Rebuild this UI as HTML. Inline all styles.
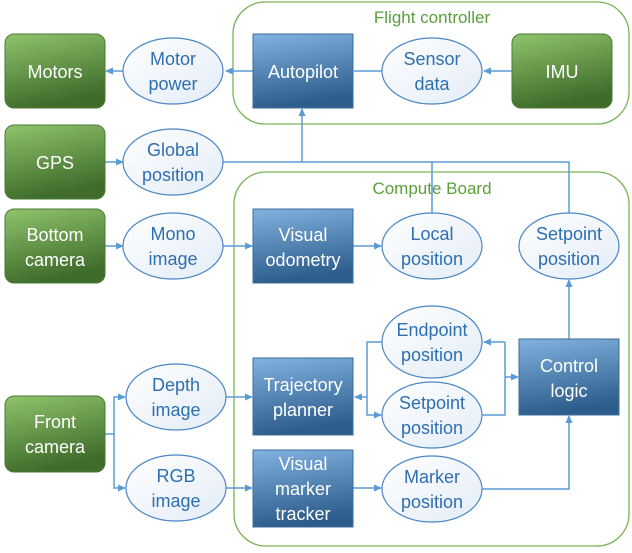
<!DOCTYPE html>
<html><head><meta charset="utf-8"><style>
body{margin:0;background:#fff}
svg text{font-family:"Liberation Sans",sans-serif;font-size:18px;text-anchor:middle}
.w{fill:#fff}.b{fill:#2e6fb0}.g{fill:#5aa03c;font-size:17px}
.e{fill:url(#eg);stroke:#4a86c5;stroke-width:1.2}
.l{fill:none;stroke:#5b9bd5;stroke-width:1.5}
</style></head><body>
<svg width="632" height="548" viewBox="0 0 632 548">
<defs>
<linearGradient id="gg" x1="0" y1="0" x2="0.3" y2="1"><stop offset="0" stop-color="#8fc46c"/><stop offset="1" stop-color="#3f6c2b"/></linearGradient>
<linearGradient id="bg" x1="0" y1="0" x2="0.2" y2="1"><stop offset="0" stop-color="#82b2df"/><stop offset="1" stop-color="#2d5d8c"/></linearGradient>
<linearGradient id="eg" x1="0" y1="0" x2="1" y2="1"><stop offset="0" stop-color="#fff"/><stop offset="1" stop-color="#e3ecf7"/></linearGradient>
<marker id="a" markerWidth="8" markerHeight="8" refX="7" refY="4" orient="auto" markerUnits="userSpaceOnUse"><path d="M0,0.5 L8,4 L0,7.5z" fill="#5b9bd5"/></marker>
</defs>
<rect x="233" y="2" width="396" height="122" rx="32" fill="none" stroke="#7ab356" stroke-width="1.3"/>
<text class="g" x="432" y="23">Flight controller</text>
<rect x="234" y="172" width="395" height="374" rx="32" fill="none" stroke="#7ab356" stroke-width="1.3"/>
<text class="g" x="432" y="194">Compute Board</text>
<g class="l">
<path d="M253 71H226" marker-end="url(#a)"/>
<path d="M123 71H106" marker-end="url(#a)"/>
<path d="M512 71H484" marker-end="url(#a)"/>
<path d="M382 71H354"/>
<path d="M105 162H123" marker-end="url(#a)"/>
<path d="M223 162H569V213"/>
<path d="M432 162V213"/>
<path d="M302 162V109" marker-end="url(#a)"/>
<path d="M105 246H123" marker-end="url(#a)"/>
<path d="M223 246H252" marker-end="url(#a)"/>
<path d="M353 246H381" marker-end="url(#a)"/>
<path d="M105 434H114V397H125" marker-end="url(#a)"/>
<path d="M114 434V488H125" marker-end="url(#a)"/>
<path d="M225 397H252" marker-end="url(#a)"/>
<path d="M225 488H252" marker-end="url(#a)"/>
<path d="M353 488H381" marker-end="url(#a)"/>
<path d="M367 397H355" marker-end="url(#a)"/>
<path d="M383 342H367V415H381" marker-end="url(#a)"/>
<path d="M505 342H484" marker-end="url(#a)"/>
<path d="M482 415H505V342"/>
<path d="M505 377H518" marker-end="url(#a)"/>
<path d="M482 489H569V416" marker-end="url(#a)"/>
<path d="M569 339V280" marker-end="url(#a)"/>
</g>
<g fill="url(#gg)" stroke="#4b7a34" stroke-width="1">
<rect x="5" y="34" width="100" height="74" rx="9"/>
<rect x="5" y="125" width="100" height="74" rx="9"/>
<rect x="5" y="209" width="100" height="74" rx="9"/>
<rect x="5" y="396" width="100" height="76" rx="9"/>
<rect x="512" y="34" width="100" height="74" rx="9"/>
</g>
<text class="w" x="55" y="78">Motors</text>
<text class="w" x="55" y="169">GPS</text>
<text class="w" x="55" y="241">Bottom</text><text class="w" x="55" y="266">camera</text>
<text class="w" x="55" y="428">Front</text><text class="w" x="55" y="453">camera</text>
<text class="w" x="562" y="78">IMU</text>
<g fill="url(#bg)" stroke="#3a6d9e" stroke-width="1">
<rect x="253" y="34" width="100" height="74"/>
<rect x="253" y="209" width="100" height="74"/>
<rect x="253" y="358" width="100" height="77"/>
<rect x="253" y="450" width="100" height="77"/>
<rect x="519" y="339" width="100" height="76"/>
</g>
<text class="w" x="303" y="78">Autopilot</text>
<text class="w" x="303" y="241">Visual</text><text class="w" x="303" y="266">odometry</text>
<text class="w" x="303" y="391">Trajectory</text><text class="w" x="303" y="416">planner</text>
<text class="w" x="303" y="470">Visual</text><text class="w" x="303" y="495">marker</text><text class="w" x="303" y="520">tracker</text>
<text class="w" x="569" y="372">Control</text><text class="w" x="569" y="397">logic</text>
<ellipse class="e" cx="173" cy="71" rx="50" ry="33"/>
<ellipse class="e" cx="173" cy="162" rx="50" ry="33"/>
<ellipse class="e" cx="173" cy="246" rx="50" ry="33"/>
<ellipse class="e" cx="176" cy="397" rx="50" ry="33"/>
<ellipse class="e" cx="176" cy="488" rx="50" ry="33"/>
<ellipse class="e" cx="432" cy="71" rx="50" ry="33"/>
<ellipse class="e" cx="432" cy="246" rx="50" ry="33"/>
<ellipse class="e" cx="569" cy="246" rx="50" ry="33"/>
<ellipse class="e" cx="432" cy="342" rx="50" ry="36"/>
<ellipse class="e" cx="432" cy="415" rx="50" ry="33"/>
<ellipse class="e" cx="432" cy="489" rx="50" ry="33"/>
<text class="b" x="173" y="65">Motor</text><text class="b" x="173" y="90">power</text>
<text class="b" x="173" y="156">Global</text><text class="b" x="173" y="181">position</text>
<text class="b" x="173" y="240">Mono</text><text class="b" x="173" y="265">image</text>
<text class="b" x="176" y="391">Depth</text><text class="b" x="176" y="416">image</text>
<text class="b" x="176" y="482">RGB</text><text class="b" x="176" y="507">image</text>
<text class="b" x="432" y="65">Sensor</text><text class="b" x="432" y="90">data</text>
<text class="b" x="432" y="240">Local</text><text class="b" x="432" y="265">position</text>
<text class="b" x="569" y="240">Setpoint</text><text class="b" x="569" y="265">position</text>
<text class="b" x="432" y="336">Endpoint</text><text class="b" x="432" y="361">position</text>
<text class="b" x="432" y="409">Setpoint</text><text class="b" x="432" y="434">position</text>
<text class="b" x="432" y="483">Marker</text><text class="b" x="432" y="508">position</text>
</svg>
</body></html>
